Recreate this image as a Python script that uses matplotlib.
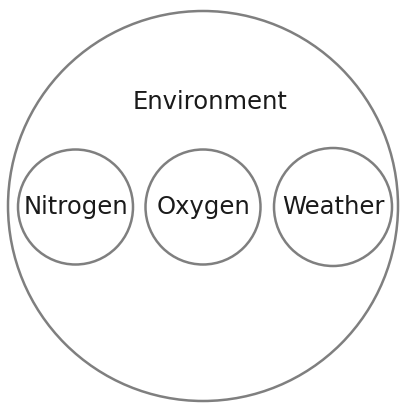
import matplotlib.pyplot as plt
from matplotlib.patches import Circle

# circle packing: parent + children (pixel coords of the 400x408 canvas)
names = ['Environment', 'Nitrogen', 'Oxygen', 'Weather']
cx = [203, 75.5, 203, 333]
cy = [206, 207, 207, 207]
radius = [195, 57.5, 57.5, 59]

fig = plt.figure(figsize=(4, 4.08), dpi=100)
ax = fig.add_axes([0, 0, 1, 1])
ax.set_xlim(0, 400)
ax.set_ylim(408, 0)
ax.set_aspect('equal')
ax.axis('off')

for i, name in enumerate(names):
    ax.add_patch(Circle((cx[i], cy[i]), radius[i], facecolor='white',
                        edgecolor='#7f7f7f', linewidth=1.8))
    x, y = (210, 102) if i == 0 else (cx[i], cy[i])
    ax.text(x, y, name, ha='center', va='center', fontsize=17.5,
            family='DejaVu Sans', color='#1a1a1a')

fig.savefig('out.png', dpi=100)
